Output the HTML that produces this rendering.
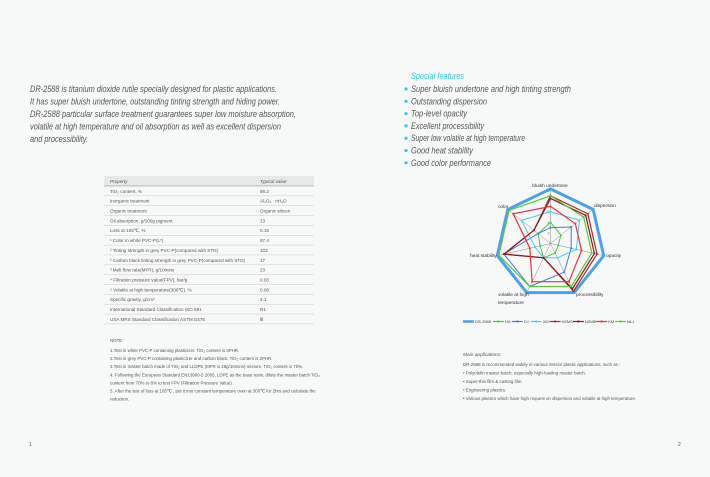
<!DOCTYPE html>
<html><head><meta charset="utf-8"><style>
body{margin:0;background:#f7f8f8;}
svg{display:block;font-family:"Liberation Sans",sans-serif;}
.it{font-style:italic;fill:#555;font-size:9.4px}
.sf{font-style:italic;fill:#555;font-size:9.2px}
.t{font-size:4.6px;fill:#555}
.n{font-size:4.4px;fill:#555}
</style></head><body>
<svg id="s" width="710" height="477" xmlns="http://www.w3.org/2000/svg">
<rect width="710" height="477" fill="#f7f8f8"/>
<text class="it" x="30" y="92" textLength="247" lengthAdjust="spacingAndGlyphs">DR-2588 is titanium dioxide rutile specially designed for plastic applications.</text>
<text class="it" x="30" y="104.5" textLength="250" lengthAdjust="spacingAndGlyphs">It has super bluish undertone, outstanding tinting strength and hiding power.</text>
<text class="it" x="30" y="117" textLength="266" lengthAdjust="spacingAndGlyphs">DR-2588 particular surface treatment guarantees  super low moisture absorption,</text>
<text class="it" x="30" y="129.5" textLength="251" lengthAdjust="spacingAndGlyphs">volatile at high temperature and oil absorption as well as excellent dispersion</text>
<text class="it" x="30" y="142" textLength="58" lengthAdjust="spacingAndGlyphs">and processibility.</text>

<text x="411" y="79" textLength="53" lengthAdjust="spacingAndGlyphs" style="font-style:italic;font-size:9.2px;fill:#36c6e6">Special  features</text>
<g id="feat"></g>

<g id="tbl"></g>
<g id="notes"></g>
<g id="radar"></g>

<text x="463" y="356" style="font-style:italic;font-size:4.8px;fill:#555">Main applications:</text>
<text class="n" x="463" y="366">DR-2588 is recommended widely  in various interior plastic applications, such as :</text>
<text class="n" x="463" y="374.5">• Polyolefin master batch, especially high-loading master batch.</text>
<text class="n" x="463" y="383">• Super-thin film &amp; casting film.</text>
<text class="n" x="463" y="391.5">• Engineering plastics.</text>
<text class="n" x="463" y="400">• Various plastics  which have high request on dispersion and volatile at high temperature.</text>

<text x="29" y="446" style="font-size:5px;fill:#555">1</text>
<text x="678" y="446" style="font-size:5px;fill:#555">2</text>
</svg>
<script>
const NS="http://www.w3.org/2000/svg";
function el(p,t,a,txt){const e=document.createElementNS(NS,t);for(const k in a)e.setAttribute(k,a[k]);if(txt!==undefined)e.textContent=txt;p.appendChild(e);return e;}
const f=document.getElementById('feat');
const fe=[["Super bluish undertone and high tinting strength",160],["Outstanding dispersion",76],["Top-level opacity",56],["Excellent processibility",73],["Super low volatile at high temperature",114],["Good heat stability",62],["Good color performance",80]];
fe.forEach((s,i)=>{const y=92+i*12.3;el(f,'circle',{cx:406,cy:y-3,r:1.6,fill:'#36c6e6'});el(f,'text',{x:411,y:y,class:'sf',textLength:s[1],lengthAdjust:'spacingAndGlyphs'},s[0]);});
const t=document.getElementById('tbl');
const rows=[["TiO₂ content, %","98.2"],["Inorganic treatment","Al₂O₃ · nH₂O"],["Organic treatment","Organic silicon"],["Oil absorption, g/100g pigment","13"],["Loss at 105℃, %","0.15"],["¹ Color in white PVC-P(L*)","97.4"],["² Tinting strength in grey PVC-P(compared with STD)","103"],["² Carbon black tinting strength in grey PVC-P(compared with STD)","17"],["³ Melt flow rate(MFR), g/10mins","23"],["⁴ Filtration pressure value(FPV), bar/g","0.03"],["⁵ Volatile at high temperature(300℃), %","0.08"],["Specific gravity, g/cm³","4.1"],["International Standard Classification ISO 591","R1"],["USA MRS Standard Classification ASTM D476","Ⅲ"]];
el(t,'rect',{x:104,y:176,width:210,height:10,fill:'#e6e7e7'});
el(t,'text',{x:110,y:183,class:'t','font-style':'italic'},"Property");
el(t,'text',{x:260,y:183,class:'t','font-style':'italic'},"Typical value");
el(t,'line',{x1:104,x2:314,y1:186,y2:186,stroke:'#888','stroke-width':0.6});
rows.forEach((r,i)=>{const y=186+i*9.85;el(t,'text',{x:110,y:y+6.8,class:'t'},r[0]);el(t,'text',{x:260,y:y+6.8,class:'t'},r[1]);el(t,'line',{x1:104,x2:314,y1:y+9.85,y2:y+9.85,stroke:'#ccc','stroke-width':0.5});});
const n=document.getElementById('notes');
el(n,'text',{x:110,y:342,class:'n'},"NOTE :");
["1.Test in white PVC-P containing  plasticizer. TiO₂ content is 4PHR.","2.Test in grey PVC-P containing  plasticizer and carbon black. TiO₂ content is 2PHR.","3.Test in master batch made of TiO₂ and LLDPE (MFR is 25g/10mins) mixture. TiO₂ content is 70%.","4. Following the European Standard EN13900-5 2005, LDPE as the base resin, dilute the master batch TiO₂","   content  from 70% to 8% to test FPV (Filtration Pressure Value) .","5. After the test of loss at 105℃ , put it into constant temperature oven at 300℃ for 2hrs and calculate the","   reduction."].forEach((s,i)=>el(n,'text',{x:110,y:352+i*8.1,class:'n','xml:space':'preserve'},s));
const R=document.getElementById('radar');
const cx=550.5,cy=243.5,rr=5.3;
const ang=k=>(k*2*Math.PI/7);
const pt=(k,v)=>[cx+v*rr*Math.sin(ang(k)),cy-v*rr*Math.cos(ang(k))];
for(let k=0;k<7;k++){const p=pt(k,10);el(R,'line',{x1:cx,y1:cy,x2:p[0],y2:p[1],stroke:'#888','stroke-width':0.5});}
for(let v=2;v<=10;v+=2)el(R,'text',{x:cx-1,y:cy-v*rr+1.5,'font-size':4,fill:'#777','text-anchor':'end'},v);
const series=[
["DR-2588","#4aa3ea",3,[10.3,10.3,10.3,10.3,10.3,10.3,10.3]],
["LM","#4cc43c",1,[4,2.5,1.5,2,3,2,3]],
["DJ","#3b7de0",1,[3,5,4,6,9,9,3]],
["XM","#3fd0f0",1,[6,7,5,3,3,3,7]],
["HZMS","#b22a2a",1.2,[9,9,9,10,3,9,4]],
["HZMB","#8b1a1a",1.2,[8.5,8.5,8.5,9.5,3,9,4]],
["KM","#f03030",1.2,[7,6,6,8,8,4,9]],
["MLL","#5cc83a",1.2,[9,8,8,9,9,10,10]]];
series.forEach(s=>{const ps=s[3].map((v,k)=>pt(k,v));el(R,'polygon',{points:ps.map(p=>p.join(',')).join(' '),fill:'none',stroke:s[1],'stroke-width':s[2]});ps.forEach(p=>el(R,'circle',{cx:p[0],cy:p[1],r:1,fill:s[1]}));});
const labs=[["bluish undertone",550,187,'middle'],["dispersion",594,207,'start'],["opacity",606,257,'start'],["processibility",576,296,'start'],["volatile at high",498,296,'start'],["temperature",498,304,'start'],["heat stability",470,257,'start'],["color",498,208,'start']];
labs.forEach(l=>el(R,'text',{x:l[1],y:l[2],'font-size':4.8,fill:'#333','text-anchor':l[3]},l[0]));
let x=463;
series.forEach(s=>{el(R,'line',{x1:x,x2:x+11,y1:321.5,y2:321.5,stroke:s[1],'stroke-width':s[2]===3?2.5:1.2});el(R,'circle',{cx:x+5.5,cy:321.5,r:1.1,fill:s[1]});el(R,'text',{x:x+12,y:323,'font-size':4,fill:'#444'},s[0]);x+=12+s[0].length*2.2+2.5;});
</script>
</body></html>
